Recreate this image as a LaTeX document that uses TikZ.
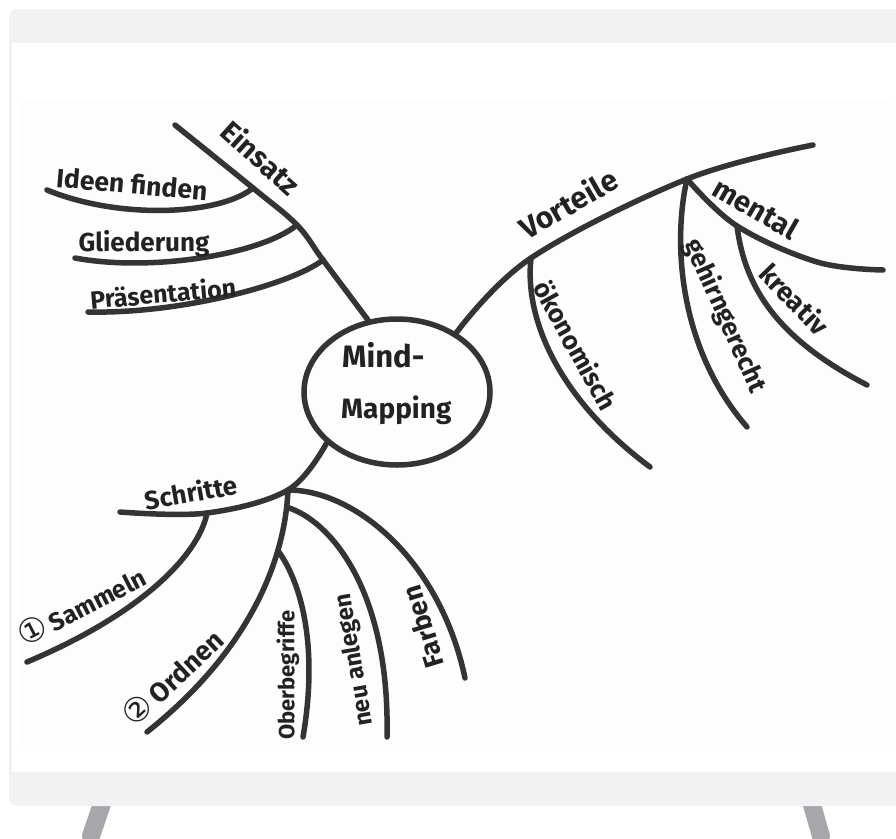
\documentclass[tikz,border=0pt]{standalone}
\usepackage{fontspec}
\setmainfont{Fira Sans}
\newfontfamily\djv{DejaVu Sans}
\usetikzlibrary{shapes.geometric}
\definecolor{ink}{HTML}{222222}
\definecolor{pen}{HTML}{343434}
\definecolor{panel}{HTML}{F1F2F4}
\definecolor{legc}{HTML}{A6A7AB}
\definecolor{photo}{HTML}{FDFDFD}
\newcommand{\circnum}[1]{{\djv\mdseries\fontsize{33}{33}\selectfont #1}}
\begin{document}
\begin{tikzpicture}[x=1pt,y=-1pt,
  branch/.style={draw=pen, line width=5.5pt, line cap=round, line join=round},
  lbl/.style={text=ink, inner sep=0pt, font=\bfseries\fontsize{#1}{#1}\selectfont},
  hub/.style={ellipse, draw=pen, line width=5.5pt, inner sep=0pt, minimum width=186pt, minimum height=146pt}]
\useasboundingbox (0,0) rectangle (896,838);
\fill[white] (0,0) rectangle (896,838);
% board
\draw[legc, line width=18pt, line cap=round] (104,798) -- (91,836);
\draw[legc, line width=18pt, line cap=round] (810,798) -- (821,836);
\fill[panel, rounded corners=8pt] (9,9) rectangle (930,806);
\fill[white] (12,43) rectangle (896,772);
\fill[photo] (20,101) rectangle (889,745);
% centre
\node[hub] (c) at (397,392) {};
\node[lbl=31, anchor=base west] (tmind) at (342,367) {Mind-};
\node[lbl=28, anchor=base west] (tmap) at (341,418) {Mapping};
% Einsatz
\coordinate (e0) at (c.112);
\coordinate (j3) at (323,260);
\coordinate (j2) at (297,225);
\coordinate (j1) at (253,188);
\coordinate (e1) at (175,125);
\draw[branch] plot[smooth, tension=0.6] coordinates {(e0) (j3) (j2) (j1) (e1)};
\coordinate (id1) at (47,190);
\coordinate (gl1) at (75,258);
\coordinate (pr1) at (88,312);
\draw[branch] (j1) .. controls (220,215) and (120,220) .. (id1);
\draw[branch] (j2) .. controls (260,255) and (150,272) .. (gl1);
\draw[branch] (j3) .. controls (290,285) and (180,314) .. (pr1);
% Vorteile
\coordinate (v0) at (c.45);
\coordinate (k1) at (531,258);
\coordinate (k2) at (687,179);
\coordinate (v1) at (813,145);
\draw[branch] plot[smooth, tension=0.6] coordinates {(v0) (k1) (k2) (v1)};
\coordinate (ok1) at (650,467);
\coordinate (ge1) at (747,427);
\draw[branch] (k1) .. controls (524,320) and (560,400) .. (ok1);
\draw[branch] (k2) .. controls (672,245) and (680,350) .. (ge1);
\coordinate (m1) at (737,226);
\coordinate (m2) at (817,262);
\coordinate (m3) at (883,270);
\draw[branch] plot[smooth, tension=0.6] coordinates {(k2) (m1) (m2) (m3)};
\coordinate (kr1) at (867,385);
\draw[branch] (m1) .. controls (745,290) and (780,340) .. (kr1);
% Schritte
\coordinate (s0) at (c.-144);
\coordinate (sj1) at (288,490);
\coordinate (sj2) at (207,513);
\coordinate (s1) at (120,512);
\draw[branch] plot[smooth, tension=0.6] coordinates {(s0) (sj1) (sj2) (s1)};
\coordinate (sa1) at (27,662);
\draw[branch] (sj2) .. controls (200,550) and (150,610) .. (sa1);
\coordinate (or1) at (147,732);
\draw[branch] (sj1) .. controls (285,560) and (250,650) .. (or1)
  coordinate[pos=0.08] (na0) coordinate[pos=0.27] (ob0);
\coordinate (ob1) at (303,737);
\draw[branch] (ob0) .. controls (303,585) and (318,650) .. (ob1);
\coordinate (na1) at (387,737);
\draw[branch] (na0) .. controls (330,520) and (390,590) .. (na1);
\coordinate (fa1) at (465,678);
\draw[branch] (sj1) .. controls (355,490) and (440,560) .. (fa1);
% labels
\node[lbl=29, rotate=-42] (tE) at (261,157) {Einsatz};
\node[lbl=26.5, rotate=-5] (tI) at (132,184) {Ideen finden};
\node[lbl=26] (tG) at (144,244) {Gliederung};
\node[lbl=25, rotate=5] (tP) at (163,293) {Präsentation};
\node[lbl=30, rotate=30] (tV) at (568,203) {Vorteile};
\node[lbl=26, rotate=-61] (tO) at (576,345) {ökonomisch};
\node[lbl=26, rotate=-66] (tGe) at (725,316) {gehirngerecht};
\node[lbl=29, rotate=-30] (tM) at (756,208) {mental};
\node[lbl=27, rotate=-46] (tK) at (795,299) {kreativ};
\node[lbl=26, rotate=10] (tS) at (191,492) {Schritte};
\node[lbl=25, rotate=27] (tSa) at (81,605) {\circnum{①}\,Sammeln};
\node[lbl=27, rotate=43] (tOr) at (172,677) {\circnum{②}\,Ordnen};
\node[lbl=22, rotate=90] (tOb) at (288,675) {Oberbegriffe};
\node[lbl=24, rotate=100] (tN) at (355,660) {neu anlegen};
\node[lbl=27, rotate=107] (tF) at (423,627) {Farben};
\end{tikzpicture}
\end{document}
